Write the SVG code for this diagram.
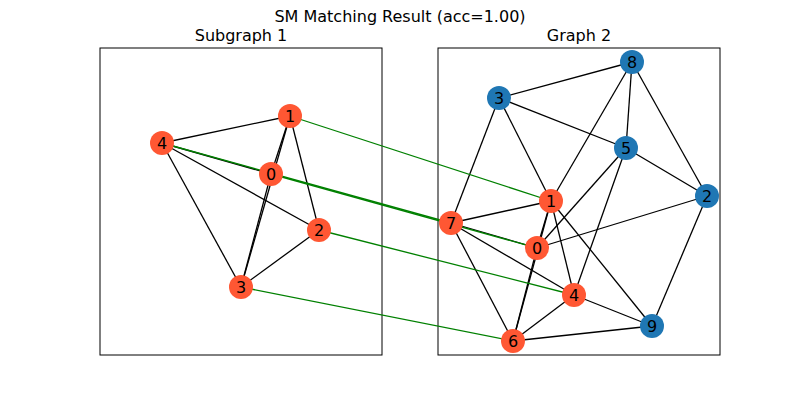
<svg xmlns="http://www.w3.org/2000/svg" width="800" height="400" viewBox="0 0 800 400">
<style>
text{font-family:"DejaVu Sans",sans-serif;fill:#000}
.t{font-size:16px;text-anchor:middle}
.n{font-size:16px;text-anchor:middle;dominant-baseline:central}
.e line{stroke:#000;stroke-width:1.3}
.m line{stroke:#008000;stroke-width:1.3}
.o{fill:#ff5733}.b{fill:#1f77b4}
.ax{fill:none;stroke:#000;stroke-width:1}
</style>
<rect width="800" height="400" fill="#fff"/>
<text class="t" x="400" y="22">SM Matching Result (acc=1.00)</text>
<text class="t" x="241" y="41">Subgraph 1</text>
<text class="t" x="579" y="41">Graph 2</text>
<rect class="ax" x="100" y="48" width="282" height="307"/>
<rect class="ax" x="438" y="48" width="282" height="307"/>
<g id="edges">
<g class="e">
<line x1="162" y1="143" x2="290" y2="116"/><line x1="162" y1="143" x2="271" y2="174"/>
<line x1="162" y1="143" x2="319" y2="230"/><line x1="162" y1="143" x2="241" y2="287"/>
<line x1="290" y1="116" x2="271" y2="174"/><line x1="290" y1="116" x2="241" y2="287"/>
<line x1="290" y1="116" x2="319" y2="230"/><line x1="271" y1="174" x2="241" y2="287"/>
<line x1="319" y1="230" x2="241" y2="287"/>
<line x1="499" y1="98" x2="632" y2="62"/><line x1="499" y1="98" x2="626" y2="148"/>
<line x1="499" y1="98" x2="551" y2="201"/><line x1="499" y1="98" x2="451" y2="223"/>
<line x1="632" y1="62" x2="551" y2="201"/><line x1="632" y1="62" x2="626" y2="148"/>
<line x1="632" y1="62" x2="707" y2="196"/><line x1="626" y1="148" x2="707" y2="196"/>
<line x1="626" y1="148" x2="537" y2="248"/><line x1="626" y1="148" x2="574" y2="295"/>
<line x1="707" y1="196" x2="537" y2="248"/><line x1="707" y1="196" x2="652" y2="326"/>
<line x1="551" y1="201" x2="451" y2="223"/><line x1="551" y1="201" x2="574" y2="295"/>
<line x1="551" y1="201" x2="652" y2="326"/><line x1="551" y1="201" x2="513" y2="341"/>
<line x1="551" y1="201" x2="537" y2="248"/>
<line x1="451" y1="223" x2="537" y2="248"/><line x1="451" y1="223" x2="574" y2="295"/>
<line x1="451" y1="223" x2="513" y2="341"/><line x1="537" y1="248" x2="513" y2="341"/>
<line x1="574" y1="295" x2="513" y2="341"/><line x1="574" y1="295" x2="652" y2="326"/>
<line x1="513" y1="341" x2="652" y2="326"/>
</g>
<g class="m">
<line x1="290" y1="116" x2="551" y2="201"/><line x1="162" y1="143" x2="451" y2="223"/>
<line x1="271" y1="174" x2="537" y2="248"/><line x1="319" y1="230" x2="574" y2="295"/>
<line x1="241" y1="287" x2="513" y2="341"/>
</g>
</g>
<g id="g1n1"><circle class="o" cx="290" cy="116" r="12"/><text class="n" x="290" y="116">1</text></g>
<g id="g1n4"><circle class="o" cx="162" cy="143" r="12"/><text class="n" x="162" y="143">4</text></g>
<g id="g1n0"><circle class="o" cx="271" cy="174" r="12"/><text class="n" x="271" y="174">0</text></g>
<g id="g1n2"><circle class="o" cx="319" cy="230" r="12"/><text class="n" x="319" y="230">2</text></g>
<g id="g1n3"><circle class="o" cx="241" cy="287" r="12"/><text class="n" x="241" y="287">3</text></g>
<g id="g2n8"><circle class="b" cx="632" cy="62" r="12"/><text class="n" x="632" y="62">8</text></g>
<g id="g2n3"><circle class="b" cx="499" cy="98" r="12"/><text class="n" x="499" y="98">3</text></g>
<g id="g2n5"><circle class="b" cx="626" cy="148" r="12"/><text class="n" x="626" y="148">5</text></g>
<g id="g2n2"><circle class="b" cx="707" cy="196" r="12"/><text class="n" x="707" y="196">2</text></g>
<g id="g2n9"><circle class="b" cx="652" cy="326" r="12"/><text class="n" x="652" y="326">9</text></g>
<g id="g2n1"><circle class="o" cx="551" cy="201" r="12"/><text class="n" x="551" y="201">1</text></g>
<g id="g2n7"><circle class="o" cx="451" cy="223" r="12"/><text class="n" x="451" y="223">7</text></g>
<g id="g2n0"><circle class="o" cx="537" cy="248" r="12"/><text class="n" x="537" y="248">0</text></g>
<g id="g2n4"><circle class="o" cx="574" cy="295" r="12"/><text class="n" x="574" y="295">4</text></g>
<g id="g2n6"><circle class="o" cx="513" cy="341" r="12"/><text class="n" x="513" y="341">6</text></g>
</svg>
